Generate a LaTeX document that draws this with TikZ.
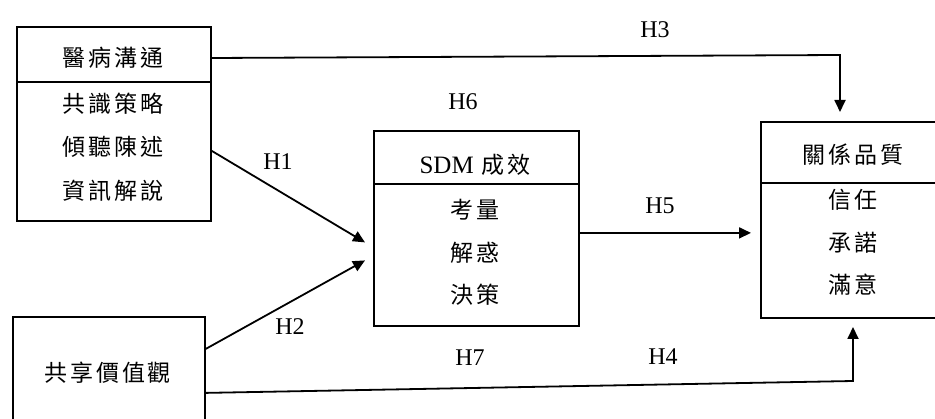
\documentclass[tikz,border=0pt]{standalone}
\usepackage{fontspec}
\setmainfont{Liberation Serif}
\newfontfamily\cjk[LetterSpace=12]{Noto Sans CJK TC}
\usetikzlibrary{arrows.meta}

\tikzset{
  box/.style={draw,line width=1.8pt,inner sep=0pt,anchor=north west},
  rule/.style={line width=1.8pt},
  head/.style={font=\cjk\fontsize{23}{26}\selectfont},
  hyp/.style={font=\fontsize{24}{26}\selectfont},
  link/.style={line width=1.8pt,-{Triangle[length=12pt,width=11pt]}}
}

\begin{document}
\begin{tikzpicture}[x=1pt,y=-1pt]
\clip (0,0) rectangle (935,419);

% the four blocks
\node[box,minimum width=194pt,minimum height=194pt] (med) at (16,26) {};
\node[box,minimum width=205pt,minimum height=195pt] (sdm) at (373,130) {};
\node[box,minimum width=186pt,minimum height=196pt] (rel) at (760,121) {};
\node[box,minimum width=192pt,minimum height=114pt] (val) at (12,316) {};

\draw[rule] (16,82) -- (210,82);
\draw[rule] (373,184) -- (578,184);
\draw[rule] (760,183) -- (946,183);

% headers and items
\node[head] (medhead) at (113,58) {醫病溝通};
\foreach \t/\y [count=\i] in {共識策略/104,傾聽陳述/147,資訊解說/191}
  \node[head] (med\i) at (113,\y) {\t};

\node[head] (sdmhead) at (475,165) {{\fontsize{25}{28}\selectfont\rmfamily SDM} 成效};
\foreach \t/\y [count=\i] in {考量/210,解惑/253,決策/295}
  \node[head] (sdm\i) at (475,\y) {\t};

\node[head] (relhead) at (853,155) {關係品質};
\foreach \t/\y [count=\i] in {信任/200,承諾/243,滿意/285}
  \node[head] (rel\i) at (853,\y) {\t};

\node[head] (valhead) at (108,373) {共享價值觀};

% paths
\coordinate (h3bend) at (840,55);
\coordinate (h3end) at (840,112);
\coordinate (h4bend) at (853,381);
\coordinate (h4end) at (853,327);

\draw[link] (med.east |- medhead) -- (h3bend) -- (h3end);
\draw[link] ([yshift=-27pt]med.east) -- ([xshift=-8pt,yshift=-14pt]sdm.west);
\draw[link] ([yshift=25pt]val.east) -- ([xshift=-8pt,yshift=-32pt]sdm.west);
\draw[link] ([yshift=-4.5pt]sdm.east) -- ([xshift=-9pt,yshift=-13pt]rel.west);
\draw[link] ([yshift=-19pt]val.east) -- (h4bend) -- (h4end);

\node[hyp] (h1) at (278,162) {H1};
\node[hyp] (h2) at (290,327) {H2};
\node[hyp] (h3) at (655,30) {H3};
\node[hyp] (h4) at (663,357) {H4};
\node[hyp] (h5) at (660,206) {H5};
\node[hyp] (h6) at (463,102) {H6};
\node[hyp] (h7) at (470,358) {H7};

\end{tikzpicture}
\end{document}
